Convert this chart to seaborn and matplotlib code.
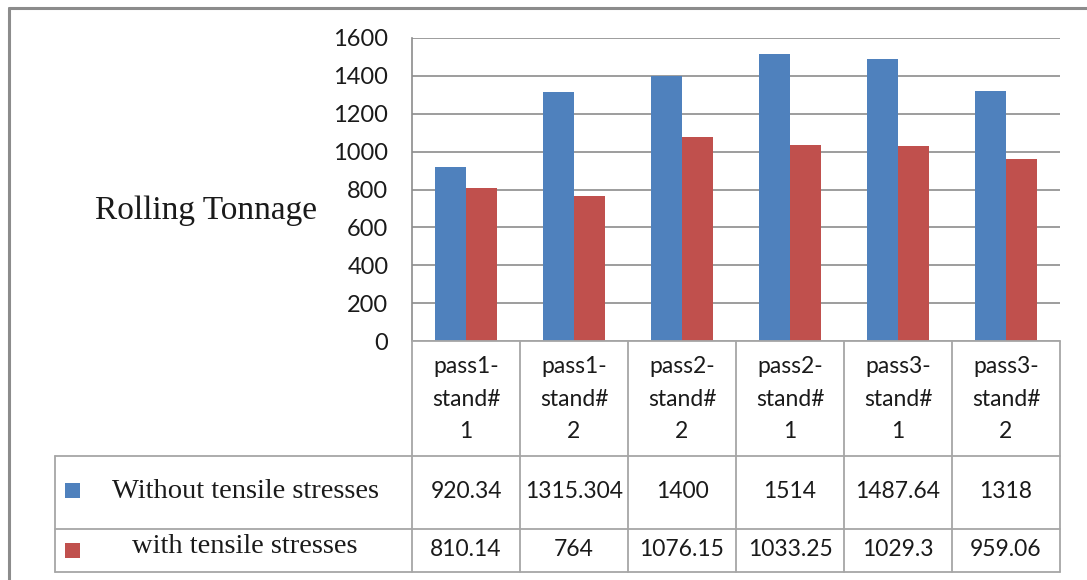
import matplotlib
matplotlib.use("Agg")
import matplotlib.pyplot as plt
from matplotlib.lines import Line2D
from matplotlib.patches import Rectangle
import pandas as pd
import seaborn as sns

# --- data ---------------------------------------------------------------
categories = ["pass1-stand#1", "pass1-stand#2", "pass2-stand#2",
              "pass2-stand#1", "pass3-stand#1", "pass3-stand#2"]
series_names = ["Without tensile stresses", "with tensile stresses"]
without_tension = [920.34, 1315.304, 1400, 1514, 1487.64, 1318]
with_tension = [810.14, 764, 1076.15, 1033.25, 1029.3, 959.06]
y_ticks = [0, 200, 400, 600, 800, 1000, 1200, 1400, 1600]
y_label = "Rolling Tonnage"

colors = ["#4F81BD", "#C0504D"]
num_font = "Lato"
serif_font = "Liberation Serif"
text_color = "#1a1a1a"
grid_color = "#8c8c8c"
table_color = "#a6a6a6"

df = pd.DataFrame({
    "category": categories * 2,
    "series": [series_names[0]] * len(categories) + [series_names[1]] * len(categories),
    "value": without_tension + with_tension,
})

sns.set_theme(style="white")
W, H = 1087, 580
fig = plt.figure(figsize=(W / 100, H / 100), dpi=100)
fig.patch.set_facecolor("white")


def fx(x):
    return x / W


def fy(y):
    return 1 - y / H


ax_left, ax_right, ax_top, ax_bottom = 412, 1060, 38, 341
ax = fig.add_axes([fx(ax_left), fy(ax_bottom), fx(ax_right - ax_left), (ax_bottom - ax_top) / H])

sns.barplot(data=df, x="category", y="value", hue="series", order=categories,
            hue_order=series_names, palette=colors, width=0.57, gap=0,
            saturation=1, linewidth=0, legend=False, ax=ax)

ax.set_xlim(-0.5, len(categories) - 0.5)
ax.set_ylim(y_ticks[0], y_ticks[-1])
ax.set_yticks(y_ticks)
ax.set_yticklabels([str(t) for t in y_ticks], fontfamily=num_font, fontsize=17, color=text_color)
ax.tick_params(axis="y", length=0, pad=17)
ax.set_xticks([])
ax.set_xlabel("")
ax.set_ylabel("")
ax.yaxis.grid(True, color=grid_color, linewidth=1.2)
ax.set_axisbelow(True)
for side in ["top", "right", "bottom"]:
    ax.spines[side].set_visible(False)
ax.spines["left"].set_color(grid_color)
ax.spines["left"].set_linewidth(1.2)

# axis title on the left
fig.text(fx(206), fy(219), y_label, ha="center", va="baseline",
         fontfamily=serif_font, fontsize=24, color=text_color)

# outer chart border
fig.add_artist(Line2D([fx(9), fx(9)], [fy(8), fy(H + 5)], color="#8c8c8c", lw=2.2,
                      transform=fig.transFigure))
fig.add_artist(Line2D([fx(9), fx(W + 5)], [fy(8), fy(8)], color="#8c8c8c", lw=2.2,
                      transform=fig.transFigure))

# --- data table under the plot -----------------------------------------
fig.canvas.draw()
to_fig = fig.transFigure.inverted()
col_edges = []
for i in range(len(categories) + 1):
    disp = ax.transData.transform((i - 0.5, 0))
    col_edges.append(to_fig.transform(disp)[0])

row_top, row_hdr, row_mid, row_bot = 341, 456, 529, 572
legend_left = 55


def hline(x0, x1, y):
    fig.add_artist(Line2D([x0, x1], [fy(y), fy(y)], color=table_color, lw=1.3,
                          transform=fig.transFigure))


def vline(x, y0, y1):
    fig.add_artist(Line2D([x, x], [fy(y0), fy(y1)], color=table_color, lw=1.3,
                          transform=fig.transFigure))


hline(col_edges[0], col_edges[-1], row_top)
for y in (row_hdr, row_mid, row_bot):
    hline(fx(legend_left), col_edges[-1], y)
vline(fx(legend_left), row_hdr, row_bot)
for i, x in enumerate(col_edges):
    vline(x, row_top, row_bot)


def fmt(v):
    return format(v, ".10g")


for i, cat in enumerate(categories):
    cx = (col_edges[i] + col_edges[i + 1]) / 2
    header = cat.replace("-", "-\n").replace("#", "#\n")
    fig.text(cx, fy(399), header, ha="center", va="center", fontfamily=num_font,
             fontsize=16.5, color=text_color, linespacing=1.7)
    fig.text(cx, fy(492), fmt(without_tension[i]), ha="center", va="center",
             fontfamily=num_font, fontsize=16.5, color=text_color)
    fig.text(cx, fy(550), fmt(with_tension[i]), ha="center", va="center",
             fontfamily=num_font, fontsize=16.5, color=text_color)

# legend keys inside the table
row_centers = [490, 550]
label_centers = [(246, 498), (245, 553)]
for k, name in enumerate(series_names):
    fig.add_artist(Rectangle((fx(65), fy(row_centers[k] + 7.5)), fx(15), 15 / H,
                             facecolor=colors[k], edgecolor="none",
                             transform=fig.transFigure))
    lx, ly = label_centers[k]
    fig.text(fx(lx), fy(ly), name, ha="center", va="baseline",
             fontfamily=serif_font, fontsize=20.5, color=text_color)

fig.savefig("out.png", dpi=100, facecolor="white")
